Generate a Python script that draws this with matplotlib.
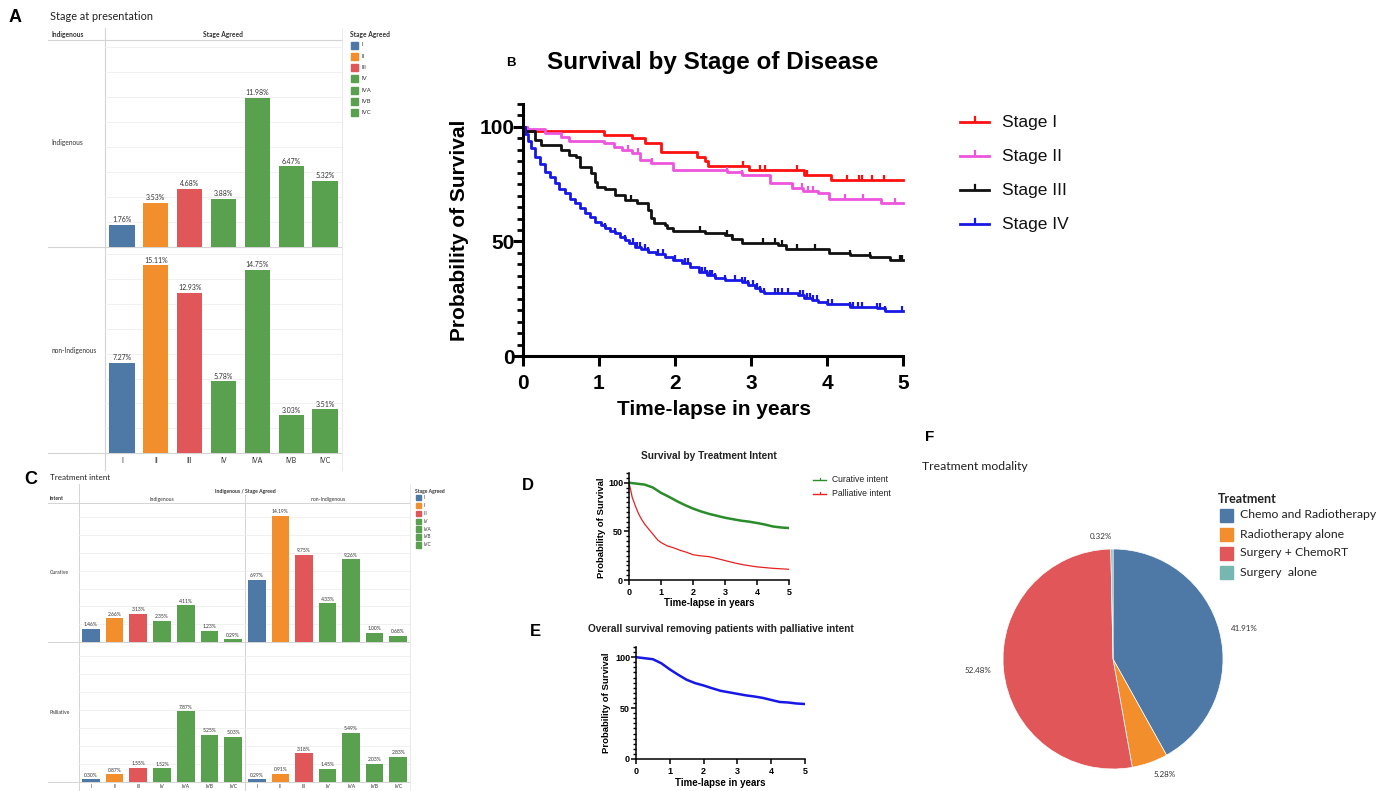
import numpy as np
import matplotlib
matplotlib.use('Agg')
import matplotlib.pyplot as plt
from matplotlib.patches import Rectangle
from matplotlib.path import Path

W, H = 1384, 791

# ---------------- data ----------------
stages = ['I', 'II', 'III', 'IV', 'IVA', 'IVB', 'IVC']
stage_colors = ['#4E79A7', '#F28E2B', '#E15759', '#59A14F', '#59A14F', '#59A14F', '#59A14F']

# A - stage at presentation (%)
pres_indig = [1.76, 3.53, 4.68, 3.88, 11.98, 6.47, 5.32]
pres_non = [7.27, 15.11, 12.93, 5.78, 14.75, 3.03, 3.51]

# C - treatment intent (%)
cur_indig = [1.46, 2.66, 3.13, 2.35, 4.11, 1.23, 0.29]
cur_non = [6.97, 14.19, 9.75, 4.33, 9.26, 1.00, 0.68]
pal_indig = [0.30, 0.87, 1.55, 1.52, 7.87, 5.25, 5.03]
pal_non = [0.29, 0.91, 3.18, 1.45, 5.49, 2.03, 2.83]

# F - treatment modality (%)
treatments = ['Chemo and Radiotherapy', 'Radiotherapy alone', 'Surgery + ChemoRT', 'Surgery  alone']
treat_pct = [41.91, 5.28, 52.48, 0.32]
treat_colors = ['#4E79A7', '#F28E2B', '#E15759', '#76B7B2']

# B - survival by stage (years, % surviving)
st1_t = [0, 0.05, 1.06, 1.43, 1.60, 1.81, 2.29, 2.39, 2.44, 2.98, 3.70, 4.05, 5.0]
st1_s = [100, 98, 96.5, 95, 92.9, 89.2, 87, 85, 83, 81.2, 79, 76.9, 76.9]
st1_cens = [2.89, 3.12, 3.18, 3.61, 3.74, 4.26, 4.42, 4.46, 4.59, 4.75]

st2_t = [0, 0.05, 0.29, 0.50, 0.60, 1.06, 1.20, 1.30, 1.43, 1.54, 1.69, 1.98,
         2.68, 2.88, 3.25, 3.54, 3.68, 3.88, 4.03, 4.71, 5.0]
st2_s = [100, 99, 97.2, 95.8, 93.9, 92.9, 91.4, 90, 88.5, 85.6, 84.1, 81,
         80.3, 79, 75.4, 73.2, 72.2, 71, 68.4, 67, 67]
st2_cens = [1.38, 1.51, 1.70, 2.68, 2.88, 3.55, 3.67, 3.75, 3.82, 4.24, 4.47, 4.89]

st3_t = [0, 0.02, 0.16, 0.24, 0.50, 0.60, 0.70, 0.75, 0.89, 0.95, 0.97, 1.08,
         1.21, 1.34, 1.50, 1.64, 1.68, 1.72, 1.87, 1.89, 1.98, 2.39, 2.66,
         2.75, 2.88, 3.35, 3.46, 4.02, 4.30, 4.57, 4.83, 5.0]
st3_s = [100, 98, 94.3, 92.1, 90, 87.8, 86.8, 82.7, 79.8, 76.1, 73.7, 72.7,
         70.3, 68.1, 66.7, 63.8, 60.1, 57.9, 57.2, 55.8, 54.7, 53.8, 52.8,
         51, 49.5, 48.5, 46.6, 45.1, 44.1, 43.1, 41.9, 41.9]
st3_cens = [1.42, 2.33, 2.68, 2.75, 3.16, 3.32, 3.41, 3.61, 3.84, 4.30, 4.57, 4.96, 4.99]

st4_t = [0, 0.03, 0.06, 0.10, 0.16, 0.22, 0.29, 0.35, 0.42, 0.48, 0.55, 0.62,
         0.68, 0.75, 0.82, 0.88, 0.95, 1.02, 1.08, 1.15, 1.21, 1.28, 1.34,
         1.40, 1.47, 1.55, 1.64, 1.75, 1.87, 1.98, 2.09, 2.20, 2.31, 2.42,
         2.53, 2.66, 2.88, 2.96, 3.05, 3.12, 3.17, 3.62, 3.70, 3.80, 3.88,
         4.00, 4.30, 4.66, 4.76, 5.0]
st4_s = [100, 97, 94, 91, 87, 84, 80.5, 78, 75.4, 73, 71, 68.5,
         66.7, 64.5, 62.3, 60.5, 58.7, 57, 55.7, 54.6, 53.6, 52, 50.7,
         49.2, 47.7, 46.5, 45.5, 44.4, 43.4, 42, 40.5, 38.7, 36.8, 35.5,
         34.2, 33.2, 32.3, 31.2, 29.5, 28.3, 27.4, 26.6, 25.5, 24.5, 23.7,
         22.7, 21.5, 20.8, 19.8, 19.8]
st4_cens = [1.08, 1.21, 1.34, 1.45, 1.50, 1.54, 1.61, 1.64, 1.78, 1.84, 2.00,
            2.13, 2.17, 2.36, 2.39, 2.42, 2.46, 2.49, 2.53, 2.66, 2.79, 2.88,
            2.92, 2.96, 3.03, 3.08, 3.12, 3.17, 3.32, 3.36, 3.41, 3.49, 3.64,
            3.68, 3.74, 3.78, 3.82, 3.87, 4.01, 4.07, 4.30, 4.34, 4.41, 4.46,
            4.66, 4.70, 4.76, 4.99]

# D - survival by treatment intent
cur_t = [0, 0.25, 0.5, 0.75, 1.0, 1.25, 1.5, 1.75, 2.0, 2.25, 2.5, 2.75,
         3.0, 3.25, 3.5, 3.75, 4.0, 4.25, 4.5, 4.75, 5.0]
cur_s = [100, 99, 98, 95, 89.6, 85.5, 81, 77, 73.4, 70.5, 68, 66,
         64, 62.5, 61, 60, 58.6, 57, 55, 54, 53.4]
pal_t = [0, 0.05, 0.1, 0.2, 0.3, 0.4, 0.5, 0.6, 0.7, 0.8, 0.9, 1.0, 1.2,
         1.4, 1.6, 1.8, 2.0, 2.2, 2.5, 2.7, 3.0, 3.3, 3.6, 4.0, 4.5, 5.0]
pal_s = [100, 93, 85, 76, 68, 62, 57, 53, 49, 45, 41, 38.5, 35,
         33, 30.5, 28.5, 26, 25, 24, 22.5, 20, 17.5, 15.5, 13.5, 12, 11]

# E - overall survival without palliative patients
os_t = [0, 0.25, 0.5, 0.75, 1.0, 1.25, 1.5, 1.75, 2.0, 2.25, 2.5, 2.75,
        3.0, 3.25, 3.5, 3.75, 4.0, 4.25, 4.5, 4.75, 5.0]
os_s = [100, 99, 98, 94, 88, 82.7, 77.8, 74.5, 72.2, 69.5, 67, 65.5,
        64, 62.5, 61.4, 60, 58, 56, 55.5, 54.5, 54]

TAB = 'Lato'
GP = 'Liberation Sans'
TXT = '#333333'
LINE = '#d4d4d4'


def rect(l, t, r, b):
    return [l / W, 1 - b / H, (r - l) / W, (b - t) / H]


fig = plt.figure(figsize=(W / 100, H / 100), dpi=100)
fig.patch.set_facecolor('white')

# overlay in pixel coords for panel letters, table lines and legends
bg = fig.add_axes([0, 0, 1, 1])
bg.set_xlim(0, W)
bg.set_ylim(H, 0)
bg.axis('off')


def bars(ax, vals, ymax, fs, xlab, pad):
    ax.set_facecolor('none')
    b = ax.bar(range(len(vals)), vals, width=0.75, color=stage_colors, zorder=2)
    ax.bar_label(b, labels=['%.2f%%' % v for v in vals], padding=1.2,
                 fontsize=fs, color=TXT, family=TAB)
    ax.set_xlim(-0.5, len(vals) - 0.5)
    ax.set_ylim(0, ymax)
    ax.set_yticks(np.arange(2, ymax, 2))
    ax.yaxis.grid(True, color='#efefef', lw=0.6)
    ax.set_axisbelow(True)
    ax.tick_params(left=False, labelleft=False, bottom=False, labelbottom=xlab,
                   length=0, pad=pad)
    ax.set_xticks(range(len(vals)))
    ax.set_xticklabels(stages, fontsize=fs, color=TXT, family=TAB)
    for sp in ax.spines.values():
        sp.set_visible(False)


# ---------------- panel A ----------------
bg.text(9, 17, 'A', fontsize=13, fontweight='bold', family=GP, va='center')
bg.text(50, 17, 'Stage at presentation', fontsize=7.8, color='#222', family=TAB, va='center')
bg.text(51, 35, 'Indigenous', fontsize=4.8, fontweight='bold', color=TXT, family=TAB, va='center')
bg.text(223, 35, 'Stage Agreed', fontsize=4.8, fontweight='bold', color=TXT, family=TAB,
        va='center', ha='center')
bg.text(51, 143, 'Indigenous', fontsize=4.8, color=TXT, family=TAB, va='center')
bg.text(51, 351, 'non-Indigenous', fontsize=4.8, color=TXT, family=TAB, va='center')
for y in (40, 247, 453):
    bg.plot([48, 342], [y, y], color=LINE, lw=0.8)
bg.plot([105, 105], [28, 470], color=LINE, lw=0.8)
bg.plot([342, 342], [28, 470], color='#e6e6e6', lw=0.6)

axA1 = fig.add_axes(rect(105, 40, 342, 247))
bars(axA1, pres_indig, 16.6, 5.0, False, 0)
axA2 = fig.add_axes(rect(105, 247, 342, 453))
bars(axA2, pres_non, 16.6, 5.0, True, 3)

bg.text(350, 35, 'Stage Agreed', fontsize=4.8, fontweight='bold', color=TXT, family=TAB, va='center')
for i, (lab, c) in enumerate(zip(stages, stage_colors)):
    y = 45 + i * 11.3
    bg.add_patch(Rectangle((351, y - 3.5), 7, 7, color=c))
    bg.text(362, y, lab, fontsize=4.3, color=TXT, family=TAB, va='center')

# ---------------- panel C ----------------
bg.text(24, 479, 'C', fontsize=13, fontweight='bold', family=GP, va='center')
bg.text(50, 478, 'Treatment intent', fontsize=5.8, color='#222', family=TAB, va='center')
bg.text(50, 498, 'Intent', fontsize=3.7, fontweight='bold', color=TXT, family=TAB, va='center')
bg.text(245, 491, 'Indigenous / Stage Agreed', fontsize=3.7, fontweight='bold', color=TXT,
        family=TAB, va='center', ha='center')
bg.text(162, 499, 'Indigenous', fontsize=3.7, color=TXT, family=TAB, va='center', ha='center')
bg.text(328, 499, 'non-Indigenous', fontsize=3.7, color=TXT, family=TAB, va='center', ha='center')
bg.text(50, 573, 'Curative', fontsize=3.7, color=TXT, family=TAB, va='center')
bg.text(50, 712, 'Palliative', fontsize=3.7, color=TXT, family=TAB, va='center')
for y in (503, 642, 782):
    bg.plot([48, 410], [y, y], color=LINE, lw=0.7)
bg.plot([79, 79], [484, 791], color=LINE, lw=0.7)
bg.plot([245, 245], [495, 791], color=LINE, lw=0.7)
bg.plot([410, 410], [484, 791], color='#e6e6e6', lw=0.6)

for vals, box, xl in ((cur_indig, (79, 503, 245, 642), False),
                      (cur_non, (245, 503, 410, 642), False),
                      (pal_indig, (79, 642, 245, 782), True),
                      (pal_non, (245, 642, 410, 782), True)):
    ax = fig.add_axes(rect(*box))
    bars(ax, vals, 15.6, 3.6, xl, 1.2)

bg.text(415, 491, 'Stage Agreed', fontsize=3.6, fontweight='bold', color=TXT, family=TAB, va='center')
for i, (lab, c) in enumerate(zip(stages, stage_colors)):
    y = 497.5 + i * 7.9
    bg.add_patch(Rectangle((416, y - 2.7), 5.4, 5.4, color=c))
    bg.text(424, y, lab, fontsize=3.4, color=TXT, family=TAB, va='center')

# ---------------- KM helpers ----------------
tick_marker = Path([(0, 0), (0, 1)])


def km_axes(ax, fs, lw, lpad):
    ax.set_facecolor('none')
    ax.set_xlim(0, 5)
    ax.set_ylim(0, 110)
    ax.set_xticks(range(6))
    ax.set_yticks([0, 50, 100])
    ax.set_yticks(np.arange(0, 111, 5), minor=True)
    ax.spines[['top', 'right']].set_visible(False)
    for s in ('left', 'bottom'):
        ax.spines[s].set_linewidth(lw)
    ax.tick_params(which='major', width=lw, length=fs * 0.5, labelsize=fs)
    ax.tick_params(axis='y', which='major', pad=lpad)
    ax.tick_params(axis='y', which='minor', width=lw * 0.9, length=fs * 0.3)
    ax.tick_params(axis='x', which='major', pad=fs * 0.35)
    for lbl in ax.get_xticklabels() + ax.get_yticklabels():
        lbl.set_fontweight('bold')
        lbl.set_family(GP)


def censor(ax, t, s, ct, color, ms, mew):
    t = np.asarray(t)
    s = np.asarray(s)
    idx = np.searchsorted(t, ct, side='right') - 1
    ax.plot(ct, s[idx], linestyle='none', marker=tick_marker, markersize=ms,
            markeredgewidth=mew, color=color, clip_on=False)


# ---------------- panel B ----------------
bg.text(511, 63, 'B', fontsize=9.5, fontweight='bold', family=GP, va='center', ha='center')
bg.text(713, 63, 'Survival by Stage of Disease', fontsize=17.5, fontweight='bold',
        family=GP, va='center', ha='center')
axB = fig.add_axes(rect(523, 104, 903, 356))
km_axes(axB, 15, 2.2, -1.5)
b_curves = [(st1_t, st1_s, st1_cens, '#ff1010', 'Stage I'),
            (st2_t, st2_s, st2_cens, '#ee55dd', 'Stage II'),
            (st3_t, st3_s, st3_cens, '#111111', 'Stage III'),
            (st4_t, st4_s, st4_cens, '#1818e6', 'Stage IV')]
for t, s, ct, c, lab in b_curves:
    axB.step(t, s, where='post', color=c, lw=2.0, label=lab, clip_on=False)
    censor(axB, t, s, ct, c, 7.5, 1.6)
axB.set_ylabel('Probability of Survival', fontsize=15, fontweight='bold', family=GP, va='center')
axB.yaxis.set_label_coords(-0.166, 0.5)
axB.set_xlabel('Time-lapse in years', fontsize=15, fontweight='bold', family=GP, va='center')
axB.xaxis.set_label_coords(0.503, -0.214)

for i, (t, s, ct, c, lab) in enumerate(b_curves):
    y = 122 + i * 34
    bg.plot([960, 989], [y, y], color=c, lw=2.0)
    bg.plot([974.5, 974.5], [y, y - 5], color=c, lw=1.6)
    bg.text(1002, y, lab, fontsize=12.5, family=GP, va='center', color='#111')

# ---------------- panel D ----------------
bg.text(528, 486, 'D', fontsize=12, fontweight='bold', family=GP, va='center', ha='center')
bg.text(709, 456, 'Survival by Treatment Intent', fontsize=7.3, fontweight='bold',
        family=GP, va='center', ha='center', color='#222')
axD = fig.add_axes(rect(629, 473, 789, 580))
km_axes(axD, 6.5, 1.1, 1)
axD.plot(cur_t, cur_s, color='#2a8c2a', lw=1.8)
axD.plot(pal_t, pal_s, color='#e52222', lw=0.9)
axD.set_ylabel('Probability of Survival', fontsize=6.8, fontweight='bold', family=GP, va='center')
axD.yaxis.set_label_coords(-0.169, 0.486)
axD.set_xlabel('Time-lapse in years', fontsize=7, fontweight='bold', family=GP, va='center')
axD.xaxis.set_label_coords(0.5, -0.215)
for i, (c, lab) in enumerate((('#2a8c2a', 'Curative intent'), ('#e52222', 'Palliative intent'))):
    y = 480 + i * 14
    bg.plot([813, 826], [y, y], color=c, lw=1.0)
    bg.plot([819.5, 819.5], [y, y - 2.5], color=c, lw=0.8)
    bg.text(832, y, lab, fontsize=6.2, family=GP, va='center', color='#222')

# ---------------- panel E ----------------
bg.text(535, 632, 'E', fontsize=12, fontweight='bold', family=GP, va='center', ha='center')
bg.text(721, 629, 'Overall survival removing patients with palliative intent', fontsize=7.3,
        fontweight='bold', family=GP, va='center', ha='center', color='#222')
axE = fig.add_axes(rect(636, 647, 805, 759))
km_axes(axE, 6.5, 1.1, 1)
axE.plot(os_t, os_s, color='#1818e6', lw=1.8)
axE.set_ylabel('Probability of Survival', fontsize=6.8, fontweight='bold', family=GP, va='center')
axE.yaxis.set_label_coords(-0.172, 0.5)
axE.set_xlabel('Time-lapse in years', fontsize=7, fontweight='bold', family=GP, va='center')
axE.xaxis.set_label_coords(0.5, -0.214)

# ---------------- panel F ----------------
bg.text(930, 437, 'F', fontsize=11, fontweight='bold', family=GP, va='center', ha='center')
bg.text(922, 466, 'Treatment modality', fontsize=8.8, color='#222', family=TAB, va='center')
axF = fig.add_axes(rect(1113 - 137.5, 659 - 137.5, 1113 + 137.5, 659 + 137.5))
axF.pie(treat_pct, colors=treat_colors, startangle=90, counterclock=False,
        labels=['%.2f%%' % v for v in treat_pct], labeldistance=1.11,
        wedgeprops=dict(edgecolor='white', linewidth=0.5),
        textprops=dict(fontsize=5.8, color=TXT, family=TAB))
axF.set_xlim(-1.25, 1.25)
axF.set_ylim(-1.25, 1.25)

bg.text(1218, 499, 'Treatment', fontsize=9, fontweight='bold', color='#222', family=TAB, va='center')
for i, (lab, c) in enumerate(zip(treatments, treat_colors)):
    y = 515 + i * 19
    bg.add_patch(Rectangle((1220, y - 6.5), 13, 13, color=c))
    bg.text(1240, y, lab, fontsize=8.8, color='#222', family=TAB, va='center')

fig.savefig('out.png', dpi=100)
